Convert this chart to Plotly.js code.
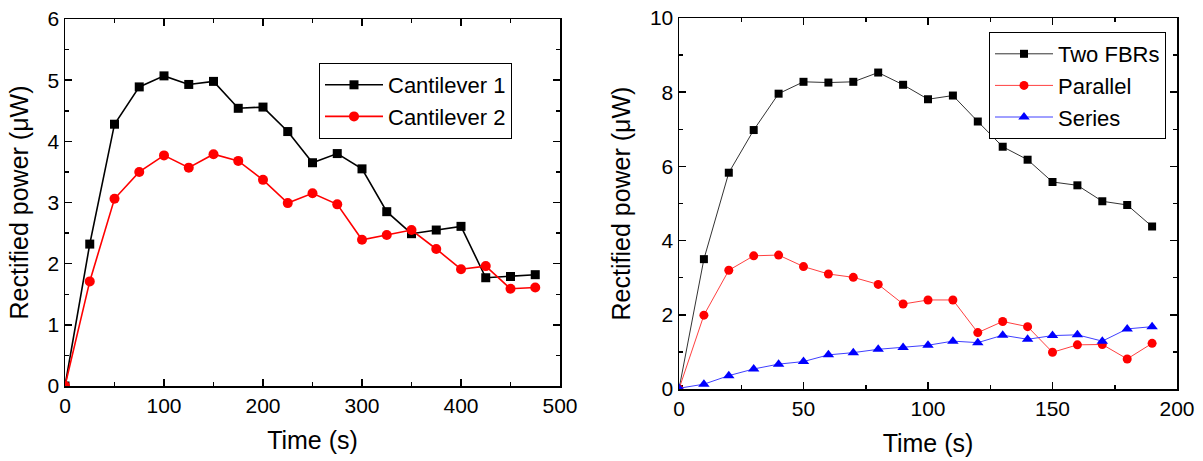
<!DOCTYPE html>
<html>
<head>
<meta charset="utf-8">
<script src="https://cdn.plot.ly/plotly-3.0.1.min.js"></script>
<style>html,body{margin:0;padding:0;background:#fff;}#chart{width:1203px;height:461px;}</style>
</head>
<body>
<div id="chart"></div>
<script>
// Left panel data
const timeLeft = [0,25,50,75,100,125,150,175,200,225,250,275,300,325,350,375,400,425,450,475];
const cantilever1 = [0,2.32,4.28,4.89,5.07,4.93,4.98,4.54,4.56,4.16,3.65,3.80,3.55,2.85,2.49,2.55,2.61,1.77,1.79,1.82];
const cantilever2 = [0,1.71,3.06,3.50,3.77,3.57,3.79,3.68,3.37,2.99,3.15,2.97,2.39,2.47,2.55,2.24,1.91,1.96,1.59,1.61];

// Right panel data
const timeRight = [0,10,20,30,40,50,60,70,80,90,100,110,120,130,140,150,160,170,180,190];
const twoFBRs = [0,3.50,5.83,6.98,7.96,8.28,8.26,8.28,8.53,8.20,7.81,7.91,7.21,6.53,6.18,5.58,5.49,5.06,4.96,4.38];
const parallel = [0,1.99,3.20,3.59,3.61,3.30,3.10,3.01,2.82,2.29,2.40,2.40,1.52,1.82,1.68,0.99,1.19,1.20,0.81,1.23];
const series = [0.02,0.13,0.36,0.54,0.67,0.74,0.92,0.98,1.07,1.12,1.18,1.29,1.25,1.45,1.34,1.44,1.46,1.29,1.62,1.68];

const leftNames = ['Cantilever 1','Cantilever 2'];
const rightNames = ['Two FBRs','Parallel','Series'];
const xTitle = 'Time (s)';
const yTitle = 'Rectified power (\u03BCW)';

const FONT = 'Liberation Sans, Arial, sans-serif';
const W = 1203, H = 461;

const traces = [
  {x: timeLeft, y: cantilever1, name: leftNames[0], xaxis:'x', yaxis:'y', mode:'lines+markers',
   line:{color:'#000000', width:1.6}, marker:{symbol:'square', size:9, color:'#000000'}, legend:'legend'},
  {x: timeLeft, y: cantilever2, name: leftNames[1], xaxis:'x', yaxis:'y', mode:'lines+markers',
   line:{color:'#ff0000', width:1.6}, marker:{symbol:'circle', size:10, color:'#ff0000'}, legend:'legend'},
  {x: timeRight, y: twoFBRs, name: rightNames[0], xaxis:'x2', yaxis:'y2', mode:'lines+markers',
   line:{color:'#333333', width:1}, marker:{symbol:'square', size:8, color:'#000000'}, legend:'legend2'},
  {x: timeRight, y: parallel, name: rightNames[1], xaxis:'x2', yaxis:'y2', mode:'lines+markers',
   line:{color:'#ff4040', width:1}, marker:{symbol:'circle', size:9, color:'#ff0000'}, legend:'legend2'},
  {x: timeRight, y: series, name: rightNames[2], xaxis:'x2', yaxis:'y2', mode:'lines+markers',
   line:{color:'#4040ff', width:1}, marker:{symbol:'triangle-up', size:10, color:'#0000ff'}, legend:'legend2'}
];

function axis(opts) {
  return Object.assign({
    showline:true, linecolor:'#000', linewidth:1.5, mirror:'ticks',
    ticks:'inside', ticklen:7, tickwidth:1.5, tickcolor:'#000',
    showgrid:false, zeroline:false, fixedrange:true,
    tickfont:{family:FONT, size:21, color:'#000'},
  }, opts);
}

const layout = {
  width: W, height: H,
  margin:{l:0,r:0,t:0,b:0},
  paper_bgcolor:'#fff', plot_bgcolor:'#fff',
  font:{family:FONT, color:'#000'},
  showlegend:true,
  xaxis: axis({domain:[65/W, 560/W], range:[0,500], tick0:0, dtick:100, anchor:'y',
    minor:{dtick:50, ticks:'inside', ticklen:4, tickwidth:1.5, tickcolor:'#000'},
    title:{text:xTitle, font:{family:FONT, size:25, color:'#000'}, standoff:16}}),
  yaxis: axis({domain:[1-386/H, 1-19/H], range:[0,6], tick0:0, dtick:1, anchor:'x',
    minor:{dtick:0.5, ticks:'inside', ticklen:4, tickwidth:1.5, tickcolor:'#000'},
    title:{text:yTitle, font:{family:FONT, size:25, color:'#000'}, standoff:12}}),
  xaxis2: axis({domain:[679/W, 1177/W], range:[0,200], tick0:0, dtick:50, anchor:'y2',
    minor:{dtick:25, ticks:'inside', ticklen:4, tickwidth:1.5, tickcolor:'#000'},
    title:{text:xTitle, font:{family:FONT, size:25, color:'#000'}, standoff:16}}),
  yaxis2: axis({domain:[1-389/H, 1-18/H], range:[0,10], tick0:0, dtick:2, anchor:'x2',
    minor:{dtick:1, ticks:'inside', ticklen:4, tickwidth:1.5, tickcolor:'#000'},
    title:{text:yTitle, font:{family:FONT, size:25, color:'#000'}, standoff:12}}),
  legend:{x:319/W, y:1-63/H, xanchor:'left', yanchor:'top', bgcolor:'#fff', itemwidth:58,
    bordercolor:'#000', borderwidth:1, font:{family:FONT, size:22, color:'#000'}, tracegroupgap:0},
  legend2:{x:989/W, y:1-32/H, xanchor:'left', yanchor:'top', bgcolor:'#fff', itemwidth:58,
    bordercolor:'#000', borderwidth:1, font:{family:FONT, size:22, color:'#000'}, tracegroupgap:0}
};

Plotly.newPlot('chart', traces, layout, {displayModeBar:false, staticPlot:true});
</script>
</body>
</html>
